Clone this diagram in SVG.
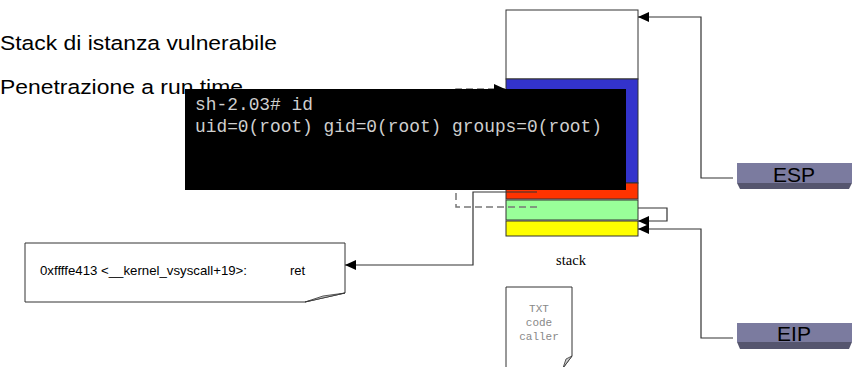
<svg xmlns="http://www.w3.org/2000/svg" width="861" height="367" viewBox="0 0 861 367">
<defs>
<marker id="ah" markerUnits="userSpaceOnUse" markerWidth="12" markerHeight="10" refX="11" refY="5" orient="auto">
<path d="M0,0 L11,5 L0,10 Z" fill="#000"/>
</marker>
<style>
.hd{font-family:"Liberation Sans",Arial,sans-serif;font-size:20.5px;fill:#000}
.cell{stroke:#333;stroke-width:1}
.ln{fill:none;stroke:#333;stroke-width:1.2}
.dash{fill:none;stroke:#777;stroke-width:1.5;stroke-dasharray:7,4}
.term{font-family:"Liberation Mono","Courier New",monospace;font-size:17.5px;fill:#cfcfcf}
.reg{fill:#7b7b9f}
.regsh{fill:#55556e}
.regt{font-family:"Liberation Sans",Arial,sans-serif;font-size:21px;fill:#000;text-anchor:middle}
.note{fill:#fff;stroke:#333;stroke-width:1}
.txt{font-family:"Liberation Mono","Courier New",monospace;font-size:11px;fill:#888;text-anchor:middle}
</style>
</defs>
<rect width="861" height="367" fill="#fff"/>
<g id="titles">
<text class="hd" x="0" y="50" textLength="277" lengthAdjust="spacingAndGlyphs">Stack di istanza vulnerabile</text>
<text class="hd" x="0" y="94" textLength="243" lengthAdjust="spacingAndGlyphs">Penetrazione a run time</text>
</g>
<g id="stack">
<rect class="cell" x="506" y="10" width="132" height="69" fill="#fff"/>
<rect class="cell" x="506" y="79" width="132" height="104" fill="#3333cc"/>
<rect class="cell" x="506" y="183" width="132" height="16" fill="#ff3300"/>
<rect class="cell" x="506" y="200" width="132" height="20" fill="#99ff99"/>
<rect class="cell" x="506" y="221" width="132" height="15" fill="#ffff00"/>
</g>
<g id="connectors">
<path class="ln" d="M733,178 H701 V17 H638" marker-end="url(#ah)"/>
<path class="ln" d="M733,338 H701 V229 H638" marker-end="url(#ah)"/>
<path class="ln" d="M638,208 H667 V221 H638" marker-end="url(#ah)"/>
<path class="ln" d="M537,192 H473 V265 H345" marker-end="url(#ah)"/>
<path class="dash" d="M537,207 H456 V89 H505" marker-end="url(#ah)"/>
</g>
<g id="terminal">
<rect x="185" y="89" width="441" height="101" fill="#000"/>
<text class="term" x="195" y="110" textLength="118" lengthAdjust="spacingAndGlyphs">sh-2.03# id</text>
<text class="term" x="195" y="132" textLength="407" lengthAdjust="spacingAndGlyphs">uid=0(root) gid=0(root) groups=0(root)</text>
</g>
<g id="esp">
<rect class="reg" x="737" y="163" width="115" height="20"/>
<path class="regsh" d="M737,183 H852 L849,189 H740 Z"/>
<text class="regt" x="794" y="182">ESP</text>
</g>
<g id="eip">
<rect class="reg" x="737" y="323" width="115" height="19"/>
<path class="regsh" d="M737,342 H852 L849,349 H740 Z"/>
<text class="regt" x="794" y="341">EIP</text>
</g>
<g id="ret-note">
<path class="note" d="M25,243 H345 V293 L305,302 H25 Z"/>
<path d="M305,302 L345,293 L323,296 Z" fill="#ccc" stroke="#333" stroke-width="0.8"/>
<text x="40" y="275" font-family="'Liberation Sans',Arial,sans-serif" font-size="13" fill="#000" textLength="207" lengthAdjust="spacingAndGlyphs">0xffffe413 &lt;__kernel_vsyscall+19&gt;:</text>
<text x="290" y="275" font-family="'Liberation Sans',Arial,sans-serif" font-size="13" fill="#000">ret</text>
</g>
<g id="stack-label">
<text x="571" y="265" font-family="'Liberation Serif','Times New Roman',serif" font-size="14.5" fill="#000" text-anchor="middle">stack</text>
</g>
<g id="txt-note">
<path class="note" d="M506,368 V287 H572 V356 L563,368"/>
<path d="M563,368 L572,356 L566,359 Z" fill="#ccc" stroke="#333" stroke-width="0.8"/>
<text class="txt" x="539" y="312">TXT</text>
<text class="txt" x="539" y="326">code</text>
<text class="txt" x="539" y="340">caller</text>
</g>
</svg>
